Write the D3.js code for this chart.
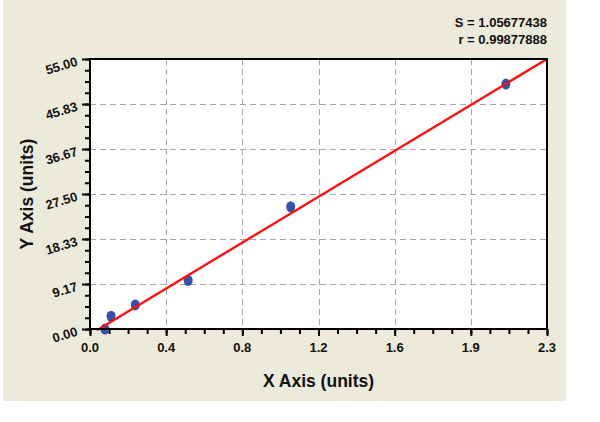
<!DOCTYPE html>
<html>
<head>
<meta charset="utf-8">
<script src="https://cdn.jsdelivr.net/npm/d3@7"></script>
<style>
  html, body { margin: 0; padding: 0; background: #ffffff; }
  svg { display: block; }
  text { font-family: "Liberation Sans", Arial, sans-serif; font-weight: bold; fill: #111; }
</style>
</head>
<body>
<svg id="chart" width="600" height="422"></svg>
<script>
// ---- data ----
const xValues = [0.075, 0.106, 0.228, 0.494, 1.010, 2.093];
const yValues = [0.0, 2.6, 4.9, 9.9, 24.9, 49.9];
const fitX = [0.035, 2.3];
const fitY = [-0.25, 55.0];
const xTickLabels = ["0.0", "0.4", "0.8", "1.2", "1.6", "1.9", "2.3"];
const yTickLabels = ["0.00", "9.17", "18.33", "27.50", "36.67", "45.83", "55.00"];
const statsLines = ["S = 1.05677438", "r = 0.99877888"];
const xTitle = "X Axis (units)";
const yTitle = "Y Axis (units)";
const xMax = 2.3, yMax = 55;

// ---- layout ----
const svg = d3.select("#chart");
const plot = { left: 90, top: 59, right: 547, bottom: 329 };

svg.append("rect").attr("x", 3).attr("y", 0).attr("width", 563).attr("height", 401)
  .attr("fill", "#ECEADA");

const x = d3.scaleLinear().domain([0, xMax]).range([plot.left, plot.right]);
const y = d3.scaleLinear().domain([0, yMax]).range([plot.bottom, plot.top]);

const nX = xTickLabels.length - 1, nY = yTickLabels.length - 1;
const xMajor = xTickLabels.map((_, i) => i * xMax / nX);
const yMajor = yTickLabels.map((_, i) => i * yMax / nY);
const xMinor = d3.range(nX * 4 + 1).map(i => i * xMax / (nX * 4));
const yMinor = d3.range(nY * 4 + 1).map(i => i * yMax / (nY * 4));

// plot background
svg.append("rect").attr("x", plot.left).attr("y", plot.top)
  .attr("width", plot.right - plot.left).attr("height", plot.bottom - plot.top)
  .attr("fill", "#ffffff");

// grid
const grid = svg.append("g").attr("stroke", "#a8a8a8").attr("stroke-width", 1)
  .attr("stroke-dasharray", "6,4");
grid.selectAll("line.vx").data(xMajor.slice(1, -1)).join("line")
  .attr("x1", d => Math.round(x(d)) + 0.5).attr("x2", d => Math.round(x(d)) + 0.5)
  .attr("y1", plot.top).attr("y2", plot.bottom);
grid.selectAll("line.hy").data(yMajor.slice(1, -1)).join("line")
  .attr("y1", d => Math.round(y(d)) + 0.5).attr("y2", d => Math.round(y(d)) + 0.5)
  .attr("x1", plot.left).attr("x2", plot.right);

// axes ticks (minor + major)
function styleAxis(g) {
  g.select(".domain").remove();
  g.selectAll(".tick line").attr("stroke", "#000").attr("stroke-width", 2);
  g.selectAll(".tick text").remove();
}
svg.append("g").attr("transform", `translate(0,${plot.bottom})`)
  .call(d3.axisBottom(x).tickValues(xMinor).tickSize(5).tickFormat("")).call(styleAxis);
svg.append("g").attr("transform", `translate(0,${plot.bottom})`)
  .call(d3.axisBottom(x).tickValues(xMajor).tickSize(7).tickFormat("")).call(styleAxis);
svg.append("g").attr("transform", `translate(${plot.left},0)`)
  .call(d3.axisLeft(y).tickValues(yMinor).tickSize(5).tickFormat("")).call(styleAxis);
svg.append("g").attr("transform", `translate(${plot.left},0)`)
  .call(d3.axisLeft(y).tickValues(yMajor).tickSize(8).tickFormat("")).call(styleAxis);

// tick labels
svg.append("g").selectAll("text").data(xMajor).join("text")
  .attr("x", d => x(d)).attr("y", plot.bottom + 18)
  .attr("text-anchor", "middle").attr("dominant-baseline", "central")
  .attr("font-size", 13)
  .text((d, i) => xTickLabels[i]);
svg.append("g").selectAll("text").data(yMajor).join("text")
  .attr("x", plot.left - 13).attr("y", d => y(d) + 2)
  .attr("text-anchor", "end").attr("dominant-baseline", "central")
  .attr("font-size", 13)
  .attr("transform", d => `rotate(-17, ${plot.left - 13}, ${y(d) + 2})`)
  .text((d, i) => yTickLabels[i]);

// points
svg.append("g").selectAll("ellipse").data(xValues).join("ellipse")
  .attr("cx", d => x(d)).attr("cy", (d, i) => y(yValues[i]))
  .attr("rx", 4.5).attr("ry", 5.5).attr("fill", "#3353A8");

// fit line
svg.append("line")
  .attr("x1", x(fitX[0])).attr("y1", y(fitY[0]))
  .attr("x2", x(fitX[1])).attr("y2", y(fitY[1]))
  .attr("stroke", "#ff1010").attr("stroke-width", 2.4);

// border
svg.append("rect").attr("x", plot.left).attr("y", plot.top)
  .attr("width", plot.right - plot.left).attr("height", plot.bottom - plot.top)
  .attr("fill", "none").attr("stroke", "#000").attr("stroke-width", 2);

// stats
svg.append("g").selectAll("text").data(statsLines).join("text")
  .attr("x", plot.right).attr("y", (d, i) => 22 + i * 17)
  .attr("text-anchor", "end").attr("dominant-baseline", "central")
  .attr("font-size", 13).text(d => d);

// titles
svg.append("text").attr("x", (plot.left + plot.right) / 2).attr("y", 381)
  .attr("text-anchor", "middle").attr("dominant-baseline", "central")
  .attr("font-size", 17.5).text(xTitle);
svg.append("text").attr("transform", `translate(27,${(plot.top + plot.bottom) / 2}) rotate(-90)`)
  .attr("text-anchor", "middle").attr("dominant-baseline", "central")
  .attr("font-size", 17.5).text(yTitle);
</script>
</body>
</html>
